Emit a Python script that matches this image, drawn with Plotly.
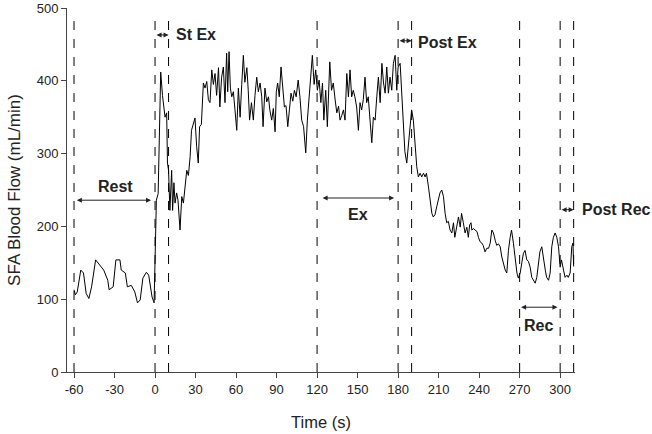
import plotly.graph_objects as go

time_s = [
    -60, -59, -57.6, -55, -53, -51, -49, -47, -44, -41, -38, -35, -34, -31, -29, -26, -25, -22, -20.5,
    -17.6, -15, -13, -11, -9, -6.4, -4.7, -2.2, -0.7, 0, 1, 2.3, 4.2, 5.5, 6.7, 7.4, 8.6, 9.2, 10, 11,
    12.3, 13, 14, 14.8, 16, 17, 18.5, 19.8, 21, 22.2, 23.5, 24.7, 26, 27, 28.4, 29.6, 30.8, 32, 33, 34.3,
    35.8, 37, 38.3, 39.5, 40.7, 42, 43.2, 44.4, 45.6, 47, 48, 49.3, 50.6, 51.8, 53, 53.8, 54.8, 55.8,
    56.8, 58, 59.2, 60.5, 61.7, 63, 64.2, 65.4, 66.5, 68, 69, 70, 71.4, 72.8, 74, 75.3, 76.5, 77.8, 79,
    80, 81.4, 82.7, 84, 85, 86.4, 87.6, 88.9, 89.8, 90.8, 92, 93.3, 94.5, 95.8, 97, 98.3, 99.5, 100.7,
    102, 103.2, 104.5, 106, 107.3, 108.6, 110, 111.6, 112.8, 114, 115.2, 116.5, 117.8, 119, 120.2,
    121.5, 122.8, 124, 125, 126.4, 127.6, 129.4, 130.7, 132, 133.3, 134.6, 135.9, 137, 138.2, 139.5,
    140.7, 142, 143.2, 144.4, 145.6, 146.8, 148, 149.3, 150.6, 151.8, 153, 154.2, 155.5, 156.7, 157.9,
    159, 160.5, 161.7, 163, 164.2, 165.4, 166.7, 168, 169.2, 170.4, 171.6, 172.8, 174, 175.3, 176.5,
    177.8, 179, 180, 181.5, 182.7, 184, 185, 186.4, 187.6, 189, 190, 191.3, 192.6, 193.8, 195, 196.3,
    197.5, 198.8, 200, 201, 202.5, 203.7, 205, 206, 207.3, 208.6, 210, 211, 212.3, 213.6, 214.8, 216,
    217.2, 218.5, 219.8, 221, 222, 223.4, 224.7, 226, 227, 228.3, 229.6, 230.9, 232, 233, 234, 234.6,
    235.8, 237, 238.4, 239.5, 240.7, 242, 243, 244.4, 245.7, 247, 248.2, 249.4, 250.6, 251.9, 253,
    254.3, 255.6, 256.8, 258, 259.3, 260.5, 261.7, 263, 264, 265.4, 266.7, 268, 269, 270.4, 271.6,
    272.8, 274, 275.3, 276.5, 277.8, 279, 280, 281.5, 282.7, 284, 285, 286.4, 287.6, 289, 290, 291.4,
    292.6, 293.8, 295, 296.3, 297.5, 298.8, 300, 301, 302.5, 303.7, 305, 306, 307.4, 308.6, 309.5, 310,
]
flow = [
    113, 106, 110, 140, 136, 108, 101, 117, 154, 147, 140, 126, 113, 117, 154, 154, 140, 136, 117,
    119, 110, 95, 99, 129, 137, 133, 103, 95, 150, 236, 245, 412, 380, 356, 350, 356, 287, 277, 222,
    277, 222, 260, 232, 246, 236, 195, 241, 232, 255, 277, 270, 296, 332, 342, 349, 310, 287, 337, 340,
    397, 390, 399, 374, 370, 415, 395, 410, 380, 418, 364, 405, 419, 370, 438, 385, 440, 390,
    378, 385, 360, 332, 390, 350, 395, 435, 398, 418, 387, 346, 370, 346, 380, 405, 385, 397, 378,
    337, 390, 371, 378, 360, 346, 362, 330, 385, 397, 378, 419, 395, 364, 366, 337, 360, 383,
    372, 387, 378, 401, 378, 346, 337, 301, 346, 378, 405, 435, 395, 415, 387,
    401, 370, 397, 346, 387, 337, 426, 387, 397, 375, 356, 365, 346, 352, 360,
    346, 410, 378, 415, 378, 387, 378, 364, 332, 370, 360, 374, 405, 370, 378,
    350, 315, 350, 346, 378, 405, 370, 424, 397, 383, 419, 383, 405, 387, 424,
    435, 387, 419, 424, 378, 337, 303, 287, 312, 344, 360, 346, 309, 282, 268, 273,
    268, 273, 268, 273, 254, 232, 218, 213, 216, 227, 236, 246, 250, 241, 218, 205,
    207, 195, 191, 205, 185, 199, 213, 199, 218, 205, 191, 199, 185, 202, 205, 195,
    197, 195, 193, 185, 179, 177, 174, 165, 170, 170, 177, 195, 191, 181, 174,
    176, 172, 158, 150, 140, 136, 167, 185, 195, 177, 154, 136, 129, 136, 150,
    163, 167, 154, 152, 144, 130, 126, 122, 130, 150, 165, 172, 154, 140, 130, 126,
    136, 172, 185, 191, 185, 172, 144, 154, 140, 130, 133, 130, 136, 172, 177, 145,
]

x_ticks = list(range(-60, 301, 30))
x_ticktext = [str(v) for v in x_ticks]

phase_lines = [-60, 0, 10, 120, 180, 190, 270, 300, 310]
phase_labels = ["Rest", "St Ex", "Ex", "Post Ex", "Rec", "Post Rec"]
phase_start = [-59, 0, 123, 180, 270, 300]
phase_end = [-3, 10, 177, 190, 298, 310]
arrow_y = [236, 463, 239, 455, 89, 223]
label_x = [-29.5, 10, 150, 190, 284, 310]
label_y = [255, 463, 216, 453, 64, 223]
label_anchor = ["center", "left", "center", "left", "center", "left"]
label_shift = [0, 5, 0, 4, 0, 6]

fig = go.Figure()
fig.add_trace(go.Scatter(x=time_s, y=flow, mode="lines",
                         line=dict(color="black", width=1), showlegend=False))

for t in phase_lines:
    fig.add_shape(type="line", x0=t, x1=t, y0=0, y1=492, xref="x", yref="y",
                  line=dict(color="black", width=1, dash="dash"))

for lab, x0, x1, ya, lx, ly, anc, sh in zip(phase_labels, phase_start, phase_end, arrow_y,
                                             label_x, label_y, label_anchor, label_shift):
    fig.add_annotation(x=x1, y=ya, ax=x0, ay=ya, xref="x", yref="y", axref="x", ayref="y",
                       text="", showarrow=True, arrowhead=2, arrowside="end+start",
                       arrowsize=1, arrowwidth=1, arrowcolor="#222")
    fig.add_annotation(x=lx, y=ly, xref="x", yref="y", text="<b>%s</b>" % lab,
                       showarrow=False, xanchor=anc, xshift=sh, font=dict(size=16, color="#222"))

fig.update_layout(
    width=652, height=434,
    margin=dict(l=67, r=77, t=8, b=62),
    plot_bgcolor="white", paper_bgcolor="white",
    font=dict(family="Liberation Sans, Arial", size=13, color="#222"),
    xaxis=dict(range=[-65.2, 311], tickvals=x_ticks, ticktext=x_ticktext, showgrid=False,
               zeroline=False, showline=True, linecolor="#444", ticks="outside",
               ticklen=5, tickcolor="#444", automargin=False,
               title=dict(text="Time (s)", standoff=20, font=dict(size=16.5))),
    yaxis=dict(range=[0, 500], tickvals=list(range(0, 501, 100)), showgrid=False,
               zeroline=False, showline=True, linecolor="#444", ticks="outside",
               ticklen=5, tickcolor="#444", automargin=False,
               title=dict(text="SFA Blood Flow (mL/min)", standoff=11, font=dict(size=17))),
)

# browser default body margin shifts the figure; remove it
fig.write_html("out.html", config={"displayModeBar": False},
               post_script="document.body.style.margin='0';")
